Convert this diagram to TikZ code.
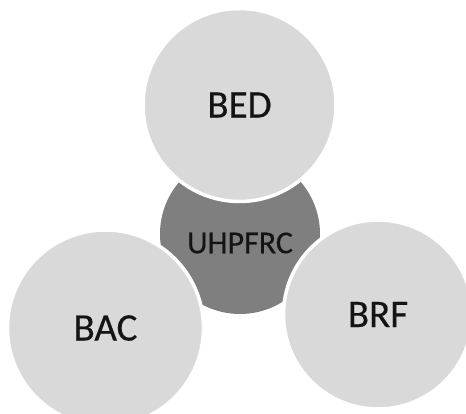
\documentclass[tikz,border=0pt]{standalone}
\usepackage{fontspec}
\setmainfont{Carlito}
\definecolor{lightc}{HTML}{D9D9D9}
\definecolor{darkc}{HTML}{7F7F7F}
\definecolor{txt}{HTML}{141414}
\begin{document}
\begin{tikzpicture}[x=1pt,y=-1pt,
  outer/.style={circle,fill=lightc,draw=white,line width=3.5pt,inner sep=0pt,text=txt,font=\fontsize{39}{42}\selectfont\addfontfeature{FakeBold=0.4}},
  corec/.style={circle,fill=darkc,inner sep=0pt,minimum size=160pt}]
\useasboundingbox (0,0) rectangle (466,414);
\clip (0,0) rectangle (466,414);
\node[corec,label={[text=txt,font=\fontsize{32}{34}\selectfont\addfontfeature{FakeBold=0.4},yshift=-9pt]center:UHPFRC}] (core) at (240,234) {};
\node[outer,minimum size=193pt] (bed) at (239.5,105) {BED};
\node[outer,minimum size=196pt] (bac) at (105.5,328) {BAC};
\node[outer,minimum size=189pt] (brf) at (378,314.5) {BRF};
\end{tikzpicture}
\end{document}
